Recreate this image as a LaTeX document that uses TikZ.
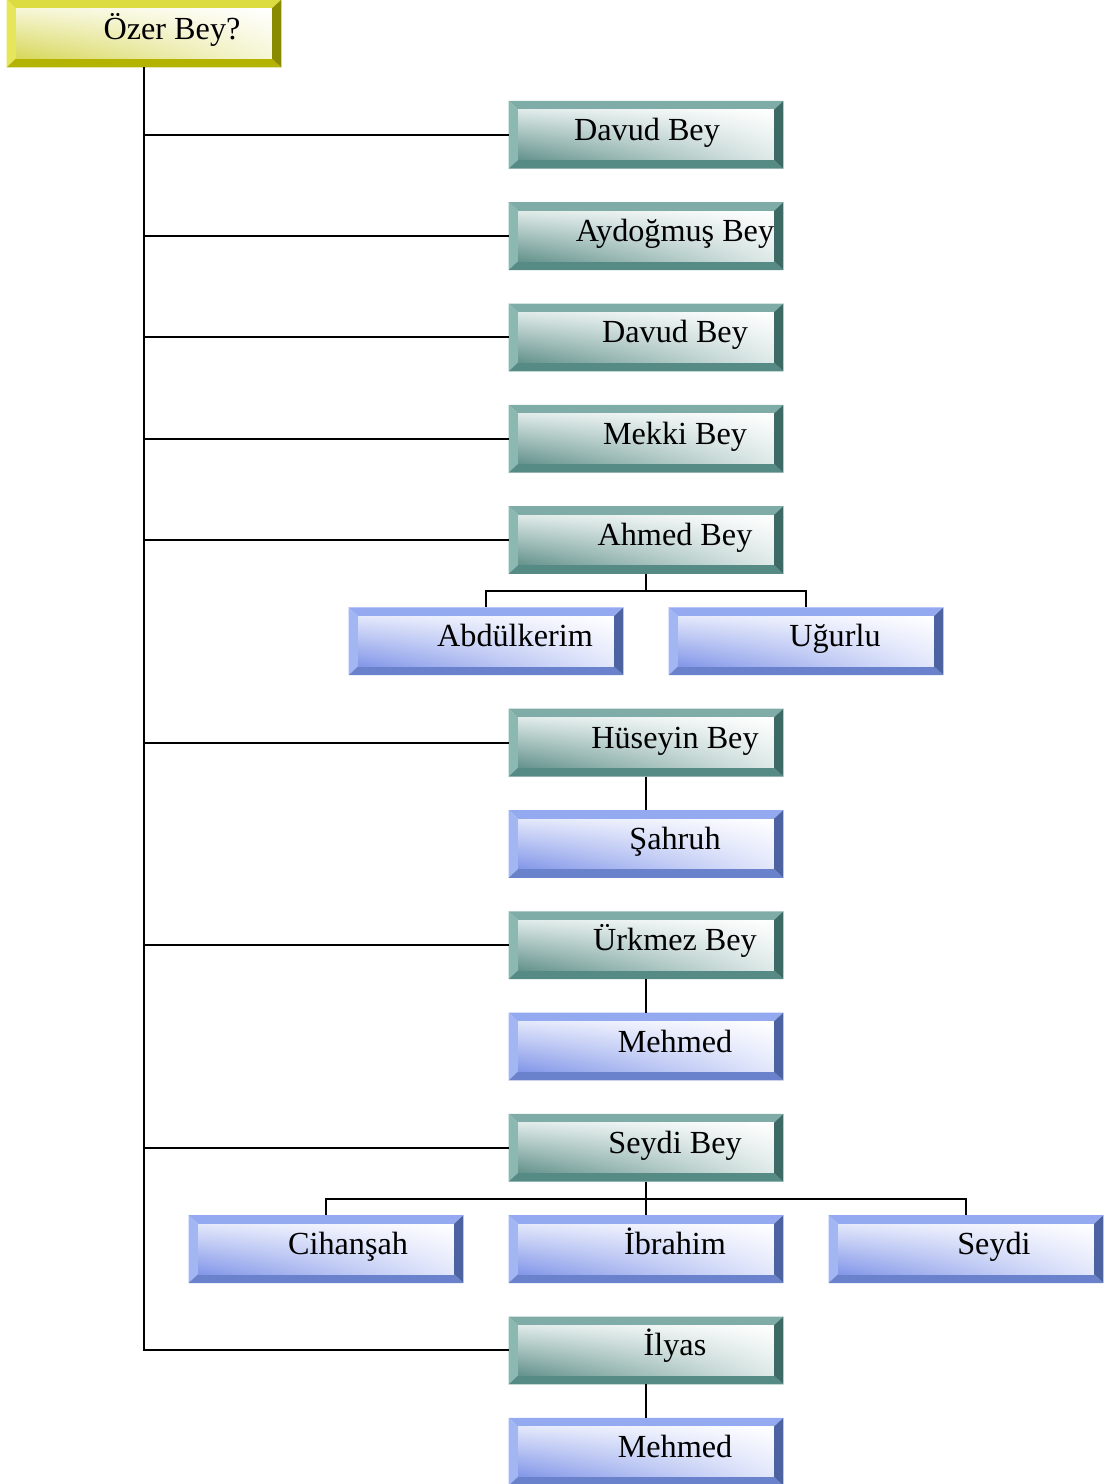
\documentclass[tikz,border=0pt]{standalone}
\usepackage{fontspec}
\setmainfont{Liberation Serif}
\usetikzlibrary{shadings}
\definecolor{GT}{RGB}{127,172,167}
\definecolor{GL}{RGB}{140,184,178}
\definecolor{GB}{RGB}{86,138,132}
\definecolor{GR}{RGB}{62,106,101}
\definecolor{GD}{RGB}{100,146,140}
\definecolor{GM}{RGB}{222,234,232}
\definecolor{YT}{RGB}{220,220,64}
\definecolor{YL}{RGB}{230,230,90}
\definecolor{YB}{RGB}{180,180,0}
\definecolor{YR}{RGB}{138,138,0}
\definecolor{YD}{RGB}{215,215,90}
\definecolor{YM}{RGB}{246,246,215}
\definecolor{BT}{RGB}{147,170,240}
\definecolor{BL}{RGB}{162,182,242}
\definecolor{BB}{RGB}{106,130,204}
\definecolor{BR}{RGB}{77,98,160}
\definecolor{BD}{RGB}{130,150,232}
\definecolor{BM}{RGB}{226,231,251}
\tikzset{
  boxshape/.style={rectangle, inner sep=0pt, minimum width=137pt, minimum height=33.5pt},
  lbl/.style={anchor=base, inner sep=0pt, font=\fontsize{16.1pt}{18pt}\selectfont},
  conn/.style={line width=1pt, black},
}
\newcommand\bevbox[6]{%
  \node[boxshape] (#1) at (#2,#3) {};
  \fill[#4T] (#1.north west) -- (#1.north east) -- ([xshift=-4.8pt,yshift=-4.5pt]#1.north east) -- ([xshift=4.8pt,yshift=-4.5pt]#1.north west) -- cycle;
  \fill[#4L] (#1.north west) -- ([xshift=4.8pt,yshift=-4.5pt]#1.north west) -- ([xshift=4.8pt,yshift=4.5pt]#1.south west) -- (#1.south west) -- cycle;
  \fill[#4B] (#1.south west) -- ([xshift=4.8pt,yshift=4.5pt]#1.south west) -- ([xshift=-4.8pt,yshift=4.5pt]#1.south east) -- (#1.south east) -- cycle;
  \fill[#4R] (#1.south east) -- ([xshift=-4.8pt,yshift=4.5pt]#1.south east) -- ([xshift=-4.8pt,yshift=-4.5pt]#1.north east) -- (#1.north east) -- cycle;
  \shade[lower left=#4D, upper right=white, upper left=#4M, lower right=#4M] ([xshift=4.8pt,yshift=4.5pt]#1.south west) rectangle ([xshift=-4.8pt,yshift=-4.5pt]#1.north east);
  \node[lbl] at (#5,#3+5.5) {#6};
}
\begin{document}
\begin{tikzpicture}[x=0.5pt,y=-0.5pt]
\useasboundingbox (0,0) rectangle (1107,1484);
\clip (0,0) rectangle (1107,1484);
\bevbox{ozer}{144}{33.5}{Y}{172}{Özer Bey?}
\bevbox{davud1}{646}{134.8}{G}{647}{Davud Bey}
\bevbox{aydogmus}{646}{236.1}{G}{675}{Aydoğmuş Bey}
\bevbox{davud2}{646}{337.4}{G}{675}{Davud Bey}
\bevbox{mekki}{646}{438.7}{G}{675}{Mekki Bey}
\bevbox{ahmed}{646}{540}{G}{675}{Ahmed Bey}
\bevbox{abdul}{486}{641.3}{B}{515}{Abdülkerim}
\bevbox{ugurlu}{806}{641.3}{B}{835}{Uğurlu}
\bevbox{huseyin}{646}{742.6}{G}{675}{Hüseyin Bey}
\bevbox{sahruh}{646}{843.9}{B}{675}{Şahruh}
\bevbox{urkmez}{646}{945.2}{G}{675}{Ürkmez Bey}
\bevbox{mehmedA}{646}{1046.5}{B}{675}{Mehmed}
\bevbox{seydibey}{646}{1147.8}{G}{675}{Seydi Bey}
\bevbox{cihansah}{326}{1249.1}{B}{348}{Cihanşah}
\bevbox{ibrahim}{646}{1249.1}{B}{675}{İbrahim}
\bevbox{seydi}{966}{1249.1}{B}{994}{Seydi}
\bevbox{ilyas}{646}{1350.4}{G}{675}{İlyas}
\bevbox{mehmedB}{646}{1451.7}{B}{675}{Mehmed}
% trunk
\draw[conn] (ozer.south) -- (ozer.south |- ilyas.west) -- (ilyas.west);
\foreach \n in {davud1,aydogmus,davud2,mekki,ahmed,huseyin,urkmez,seydibey}
  \draw[conn] (ozer.south |- \n.west) -- (\n.west);
% children
\draw[conn] (ahmed.south) -- ++(0,17.5) -| (abdul.north);
\draw[conn] (ahmed.south) -- ++(0,17.5) -| (ugurlu.north);
\draw[conn] (huseyin.south) -- (sahruh.north);
\draw[conn] (urkmez.south) -- (mehmedA.north);
\draw[conn] (seydibey.south) -- ++(0,17) -| (cihansah.north);
\draw[conn] (seydibey.south) -- (ibrahim.north);
\draw[conn] (seydibey.south) -- ++(0,17) -| (seydi.north);
\draw[conn] (ilyas.south) -- (mehmedB.north);
\end{tikzpicture}
\end{document}
